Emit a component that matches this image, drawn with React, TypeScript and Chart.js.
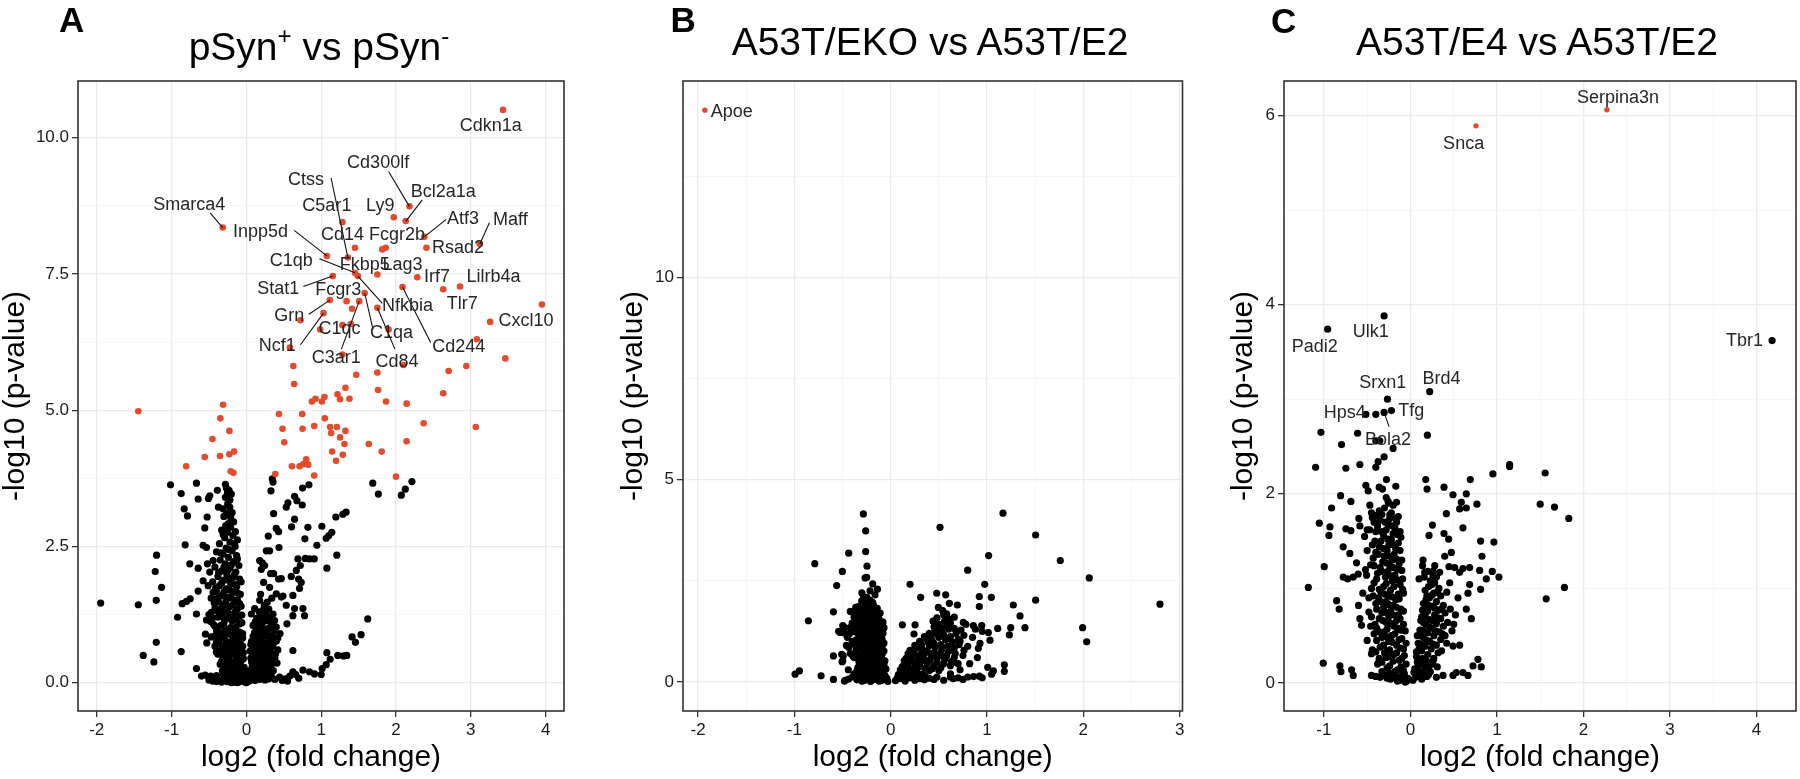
import React, { useEffect, useRef } from 'react';
import { Chart, registerables } from 'chart.js';

Chart.register(...registerables);

const FONT = '"Liberation Sans", Arial, Helvetica, sans-serif';
const RED = '#E34B2C';
const BLACK = '#000000';

type P = [number, number];
type Lab = { t: string; x: number; y: number; s?: [number, number, number, number] };

// ---------------- Panel A: pSyn+ vs pSyn- ----------------
const aRed: P[] = [
  [3.43, 10.51], [2.18, 8.74], [1.97, 8.54], [2.13, 8.47], [-0.316, 8.35], [1.284, 8.45], [2.378, 8.18], [3.12, 8.05],
  [1.452, 7.98], [1.817, 7.95], [1.863, 7.98], [2.407, 7.98], [1.076, 7.83], [1.357, 7.8], [1.452, 7.52], [1.49, 7.46],
  [1.751, 7.49], [1.155, 7.46], [2.284, 7.44], [2.631, 7.22], [2.856, 7.27], [2.087, 7.26], [1.581, 7.15], [1.116, 7.02],
  [1.34, 7.0], [1.508, 7.0], [1.751, 6.88], [1.413, 6.86], [1.031, 6.78], [3.95, 6.94], [0.723, 6.65], [3.258, 6.62],
  [0.987, 6.48], [1.284, 6.56], [1.396, 6.58], [1.901, 6.48], [3.08, 6.3], [0.583, 6.15], [1.284, 6.02], [3.461, 5.95],
  [0.628, 5.81], [2.098, 5.83], [2.94, 5.81], [2.704, 5.72], [1.751, 5.69], [1.469, 5.65], [0.639, 5.48], [1.324, 5.41],
  [1.761, 5.37], [2.631, 5.31], [1.867, 5.16], [2.142, 5.12], [0.876, 5.16], [0.924, 5.21], [1.009, 5.16], [1.044, 5.24],
  [1.218, 5.29], [1.253, 5.2], [1.378, 5.21], [-0.311, 5.1], [-1.444, 4.98], [-0.347, 4.85], [0.436, 4.93], [0.747, 4.93],
  [1.049, 4.85], [2.369, 4.76], [3.067, 4.69], [-0.227, 4.62], [0.484, 4.66], [0.751, 4.66], [0.907, 4.71], [1.12, 4.69],
  [1.209, 4.69], [1.324, 4.62], [1.133, 4.58], [1.253, 4.5], [1.311, 4.38], [-0.453, 4.47], [0.507, 4.41], [1.636, 4.38],
  [2.142, 4.43], [1.809, 4.24], [1.147, 4.24], [1.289, 4.18], [1.2, 4.07], [-0.556, 4.14], [-0.351, 4.16], [-0.227, 4.19],
  [-0.164, 4.24], [-0.804, 3.97], [-0.209, 3.88], [-0.173, 3.85], [0.609, 3.97], [0.711, 3.97], [0.764, 4.01], [0.8, 4.1],
  [0.827, 4.0], [0.387, 3.83], [0.907, 3.8], [2.0, 3.78],
];

const aBlackOuter: P[] = [
  [-1.013, 3.63], [-0.667, 3.66], [-0.871, 3.47], [-0.644, 3.37], [-0.507, 3.38], [-0.489, 3.43], [-0.387, 3.53], [-0.28, 3.64],
  [-0.267, 3.57], [-0.231, 3.53], [-0.2, 3.46], [-0.253, 3.48], [0.347, 3.74], [0.356, 3.68], [0.329, 3.52], [0.836, 3.63],
  [0.751, 3.57], [0.644, 3.42], [0.676, 3.34], [0.747, 3.26], [0.556, 3.3], [0.533, 3.22], [1.689, 3.66], [1.764, 3.46],
  [2.071, 3.44], [2.124, 3.55], [2.213, 3.69], [-0.831, 3.19], [-0.787, 3.06], [-0.524, 3.04], [-0.373, 3.22], [-0.311, 3.19],
  [-0.222, 3.22], [-0.209, 3.02], [-0.276, 2.88], [-0.253, 2.76], [-0.147, 2.77], [-0.556, 2.84], [0.364, 3.1], [0.644, 3.0],
  [0.604, 2.86], [0.4, 2.83], [0.431, 2.77], [0.822, 2.85], [1.009, 2.87], [1.196, 3.04], [1.289, 3.09], [1.333, 3.13],
  [1.142, 2.76], [1.102, 2.7], [1.067, 2.65], [0.782, 2.64], [0.942, 2.52], [1.209, 2.34], [1.076, 2.1], [0.293, 2.69],
  [0.436, 2.48], [0.311, 2.42], [0.267, 2.42], [0.178, 2.24], [0.213, 2.2], [0.244, 2.15], [0.2, 2.08], [-0.818, 2.53],
  [-0.578, 2.52], [-0.533, 2.48], [-1.2, 2.34], [-1.218, 2.04], [-1.133, 1.75], [-1.204, 1.51], [-1.947, 1.46], [-1.444, 1.43],
  [-0.756, 2.18], [-0.644, 2.1], [-0.52, 2.18], [-0.489, 2.03], [-0.444, 2.24], [-0.578, 1.87], [-0.644, 1.68], [-0.858, 1.45],
  [-0.8, 1.49], [-0.751, 1.54], [-0.92, 1.2], [-0.667, 1.26], [-0.533, 1.15], [-0.476, 1.12], [-0.547, 0.89], [-0.529, 0.73],
  [-0.4, 0.74], [-1.204, 0.74], [-1.378, 0.5], [-1.236, 0.38], [-0.871, 0.57], [-0.667, 0.26], [-0.476, 0.12], [-0.4, 0.13],
  [0.364, 2.0], [0.431, 1.9], [0.467, 1.91], [0.324, 2.0], [0.6, 1.95], [0.698, 1.9], [0.733, 1.84], [0.689, 2.27],
  [0.72, 2.15], [0.667, 2.06], [0.787, 2.28], [0.844, 2.27], [0.907, 2.27], [0.711, 1.73], [0.231, 1.84], [0.311, 1.75],
  [0.4, 1.63], [0.467, 1.57], [0.489, 1.59], [0.622, 1.6], [0.533, 1.42], [0.644, 1.36], [0.756, 1.36], [0.778, 1.23],
  [0.622, 1.23], [0.178, 1.51], [0.111, 1.36], [0.067, 1.26], [0.356, 1.26], [0.378, 1.14], [0.542, 1.08], [0.622, 0.59],
  [1.622, 1.17], [1.533, 0.88], [1.413, 0.84], [1.458, 0.74], [1.076, 0.55], [1.12, 0.43], [1.222, 0.5], [1.298, 0.49],
  [1.342, 0.5], [1.067, 0.33], [1.013, 0.26], [1.0, 0.15], [0.622, 0.2], [0.756, 0.23], [0.844, 0.2], [0.911, 0.16],
  [0.444, 0.1], [0.333, 0.1],
  [-0.6, 0.12], [-0.55, 0.14], [-0.5, 0.05], [-0.45, 0.03], [-0.4, 0.02], [0.48, 0.04], [0.52, 0.07], [0.58, 0.12],
  [0.66, 0.15], [0.7, 0.08], [0.55, 0.03], [-0.2, 0.0], [0.0, 0.0], [0.03, 0.02], [-0.12, 0.0],
];

const aBlackLeftArm: P[] = [
  [-0.28, 3.4], [-0.22, 3.35], [-0.25, 3.28], [-0.19, 3.12], [-0.3, 3.05], [-0.17, 2.95], [-0.24, 2.92], [-0.33, 2.8],
  [-0.18, 2.7], [-0.29, 2.66], [-0.12, 2.62], [-0.22, 2.58], [-0.36, 2.55], [-0.15, 2.5], [-0.27, 2.47],
  [-0.4, 2.4], [-0.19, 2.42], [-0.31, 2.36], [-0.13, 2.33], [-0.24, 2.3], [-0.35, 2.25], [-0.17, 2.22], [-0.28, 2.18],
  [-0.1, 2.15], [-0.42, 2.12], [-0.22, 2.1], [-0.33, 2.05], [-0.14, 2.03], [-0.26, 1.98], [-0.38, 1.95], [-0.18, 1.93],
  [-0.09, 1.9], [-0.3, 1.88], [-0.45, 1.85], [-0.21, 1.82],
  [-0.36, 1.78], [-0.13, 1.76], [-0.27, 1.72], [-0.4, 1.68], [-0.17, 1.66], [-0.08, 1.62], [-0.32, 1.6], [-0.23, 1.57],
  [-0.47, 1.55], [-0.12, 1.52], [-0.37, 1.48], [-0.28, 1.45], [-0.19, 1.42], [-0.07, 1.4], [-0.42, 1.37], [-0.33, 1.33],
  [-0.15, 1.3], [-0.24, 1.27], [-0.5, 1.25], [-0.1, 1.22], [-0.38, 1.2], [-0.29, 1.16], [-0.19, 1.13], [-0.06, 1.1],
  [-0.44, 1.07], [-0.34, 1.05], [-0.14, 1.02],
  [-0.25, 0.98], [-0.4, 0.95], [-0.09, 0.93], [-0.31, 0.9], [-0.19, 0.87], [-0.47, 0.84], [-0.05, 0.82], [-0.36, 0.79],
  [-0.27, 0.76], [-0.13, 0.73], [-0.22, 0.7], [-0.42, 0.67], [-0.08, 0.64], [-0.32, 0.61], [-0.17, 0.58], [-0.04, 0.55],
  [-0.38, 0.52], [-0.25, 0.5], [-0.12, 0.47], [-0.29, 0.43], [-0.07, 0.4], [-0.2, 0.37], [-0.35, 0.34], [-0.14, 0.31],
  [-0.03, 0.28], [-0.26, 0.25], [-0.1, 0.22], [-0.18, 0.19], [-0.31, 0.16], [-0.06, 0.14], [-0.23, 0.11], [-0.13, 0.08],
  [-0.02, 0.06], [-0.28, 0.05], [-0.17, 0.03], [-0.08, 0.02], [-0.37, 0.04], [-0.02, 0.01],
  [-0.511, 1.78], [-0.444, 1.66], [-0.4, 1.54], [-0.356, 1.35], [-0.467, 1.29], [-0.422, 1.04], [-0.378, 0.87], [-0.333, 0.68],
  [-0.4, 0.56], [-0.311, 0.44], [-0.267, 0.32],
  [-0.26, 3.1], [-0.21, 2.85], [-0.31, 2.72], [-0.16, 2.55], [-0.23, 2.44], [-0.34, 2.38], [-0.12, 2.27], [-0.2, 2.16],
  [-0.3, 2.12], [-0.37, 2.02], [-0.25, 2.06], [-0.16, 1.98], [-0.07, 1.85], [-0.24, 1.88], [-0.33, 1.83], [-0.15, 1.8],
  [-0.41, 1.74], [-0.22, 1.7], [-0.3, 1.66], [-0.11, 1.64], [-0.36, 1.58], [-0.2, 1.55], [-0.27, 1.51], [-0.15, 1.48],
  [-0.43, 1.46], [-0.09, 1.45], [-0.31, 1.42], [-0.23, 1.39], [-0.12, 1.35], [-0.38, 1.31], [-0.27, 1.3], [-0.18, 1.25],
  [-0.06, 1.24], [-0.33, 1.22], [-0.45, 1.19], [-0.24, 1.18], [-0.14, 1.15], [-0.09, 1.08], [-0.3, 1.09], [-0.39, 1.02],
  [-0.21, 1.01], [-0.28, 0.96], [-0.15, 0.95], [-0.35, 0.92], [-0.05, 0.9], [-0.23, 0.89], [-0.42, 0.86], [-0.12, 0.85],
  [-0.3, 0.83], [-0.18, 0.8], [-0.08, 0.77], [-0.25, 0.74], [-0.38, 0.73], [-0.16, 0.69], [-0.29, 0.67], [-0.05, 0.67],
  [-0.21, 0.63], [-0.12, 0.61], [-0.35, 0.58], [-0.26, 0.56], [-0.09, 0.55], [-0.19, 0.53], [-0.31, 0.49], [-0.14, 0.45],
  [-0.04, 0.44], [-0.23, 0.42], [-0.33, 0.39], [-0.1, 0.37], [-0.17, 0.34], [-0.27, 0.3], [-0.06, 0.29], [-0.21, 0.26],
  [-0.12, 0.25], [-0.32, 0.22], [-0.03, 0.19], [-0.15, 0.16], [-0.25, 0.14], [-0.09, 0.12], [-0.19, 0.09], [-0.04, 0.1],
  [-0.3, 0.09], [-0.11, 0.05], [-0.22, 0.06], [-0.05, 0.04], [-0.15, 0.01], [-0.26, 0.02], [-0.33, 0.01],
];

const aBlackRightArm: P[] = [
  [0.06, 0.05], [0.12, 0.04], [0.18, 0.06], [0.25, 0.05], [0.3, 0.07], [0.38, 0.06], [0.05, 0.15], [0.1, 0.2],
  [0.16, 0.17], [0.22, 0.24], [0.28, 0.19], [0.08, 0.3], [0.14, 0.35], [0.2, 0.4], [0.27, 0.36], [0.33, 0.3],
  [0.06, 0.45], [0.11, 0.52], [0.17, 0.48], [0.24, 0.55], [0.3, 0.5], [0.38, 0.45], [0.09, 0.62], [0.15, 0.68],
  [0.21, 0.64], [0.28, 0.7], [0.35, 0.66], [0.42, 0.6], [0.07, 0.76], [0.13, 0.82], [0.19, 0.78], [0.26, 0.85],
  [0.32, 0.8], [0.4, 0.76], [0.11, 0.92], [0.17, 0.97], [0.23, 0.93], [0.3, 1.0], [0.37, 0.95], [0.45, 0.9],
  [0.09, 1.05], [0.15, 1.1], [0.21, 1.07], [0.27, 1.14], [0.34, 1.09], [0.2, 1.22], [0.26, 1.28], [0.14, 1.18],
  [0.3, 1.35], [0.24, 1.42],
  [0.03, 0.08], [0.09, 0.1], [0.14, 0.11], [0.2, 0.14], [0.26, 0.12], [0.33, 0.14], [0.04, 0.22], [0.07, 0.38],
  [0.12, 0.28], [0.18, 0.3], [0.24, 0.31], [0.3, 0.26], [0.36, 0.22], [0.05, 0.58], [0.1, 0.42], [0.16, 0.41],
  [0.22, 0.46], [0.28, 0.43], [0.34, 0.4], [0.41, 0.36], [0.08, 0.5], [0.13, 0.58], [0.19, 0.56], [0.26, 0.61],
  [0.32, 0.58], [0.39, 0.53], [0.06, 0.7], [0.11, 0.72], [0.17, 0.7], [0.23, 0.73], [0.3, 0.74], [0.36, 0.72],
  [0.09, 0.85], [0.15, 0.88], [0.21, 0.84], [0.28, 0.9], [0.35, 0.86], [0.42, 0.82], [0.13, 1.0], [0.19, 1.02],
  [0.25, 0.98], [0.33, 1.04], [0.4, 1.02], [0.12, 1.12], [0.18, 1.14], [0.24, 1.18], [0.31, 1.2], [0.17, 1.3],
  [0.23, 1.34], [0.28, 1.48], [0.34, 1.55], [0.19, 1.62],
];

const aLabels: Lab[] = [
  { t: 'Cdkn1a', x: 3.265, y: 10.21 },
  { t: 'Cd300lf', x: 1.761, y: 9.54, s: [1.901, 9.38, 2.178, 8.74] },
  { t: 'Ctss', x: 0.796, y: 9.23, s: [1.132, 9.26, 1.357, 7.8] },
  { t: 'Bcl2a1a', x: 2.631, y: 9.0, s: [2.351, 8.86, 2.133, 8.47] },
  { t: 'Smarca4', x: -0.764, y: 8.76, s: [-0.484, 8.62, -0.316, 8.35] },
  { t: 'C5ar1', x: 1.076, y: 8.74 },
  { t: 'Ly9', x: 1.789, y: 8.74 },
  { t: 'Atf3', x: 2.895, y: 8.5, s: [2.671, 8.5, 2.378, 8.18] },
  { t: 'Maff', x: 3.529, y: 8.49, s: [3.248, 8.44, 3.12, 8.05] },
  { t: 'Inpp5d', x: 0.19, y: 8.27, s: [0.639, 8.3, 1.076, 7.83] },
  { t: 'Cd14', x: 1.284, y: 8.22 },
  { t: 'Fcgr2b', x: 2.013, y: 8.22 },
  { t: 'Rsad2', x: 2.828, y: 7.98 },
  { t: 'C1qb', x: 0.6, y: 7.73, s: [0.976, 7.78, 1.452, 7.52] },
  { t: 'Fkbp5', x: 1.581, y: 7.67 },
  { t: 'Lag3', x: 2.087, y: 7.67 },
  { t: 'Irf7', x: 2.547, y: 7.44 },
  { t: 'Lilrb4a', x: 3.304, y: 7.44 },
  { t: 'Stat1', x: 0.425, y: 7.22, s: [0.762, 7.27, 1.155, 7.46] },
  { t: 'Fcgr3', x: 1.228, y: 7.2 },
  { t: 'Nfkbia', x: 2.153, y: 6.92, s: [1.817, 6.96, 1.49, 7.46] },
  { t: 'Tlr7', x: 2.884, y: 6.94 },
  { t: 'Grn', x: 0.572, y: 6.72, s: [0.835, 6.76, 1.116, 7.02] },
  { t: 'Cxcl10', x: 3.737, y: 6.64 },
  { t: 'C1qc', x: 1.244, y: 6.48 },
  { t: 'C1qa', x: 1.941, y: 6.41, s: [1.693, 6.48, 1.581, 7.15] },
  { t: 'Ncf1', x: 0.414, y: 6.18, s: [0.723, 6.2, 1.031, 6.78] },
  { t: 'Cd244', x: 2.839, y: 6.15, s: [2.463, 6.24, 2.087, 7.26] },
  { t: 'C3ar1', x: 1.2, y: 5.95, s: [1.27, 6.12, 1.508, 7.0] },
  { t: 'Cd84', x: 2.013, y: 5.88, s: [1.985, 6.12, 1.751, 6.88] },
];

const aXMajor = [-2, -1, 0, 1, 2, 3, 4];
const aXMajorLabels = ['-2', '-1', '0', '1', '2', '3', '4'];
const aXMinor: number[] = [];
const aYMajor = [0, 2.5, 5, 7.5, 10];
const aYMajorLabels = ['0.0', '2.5', '5.0', '7.5', '10.0'];
const aYMinor = [1.25, 3.75, 6.25, 8.75];

// ---------------- Panel B: A53T/EKO vs A53T/E2 ----------------
const bRed: P[] = [[-1.93, 14.13]];

const bBlackOuter: P[] = [
  [-0.284, 4.15], [-0.26, 3.73], [-0.26, 3.22], [-0.246, 2.86], [-0.266, 2.57], [-0.25, 2.58], [-0.436, 3.18], [-0.789, 2.92],
  [-0.502, 2.73], [-0.561, 2.38], [-0.408, 1.73], [-0.595, 1.73], [-0.855, 1.51], [-0.595, 0.64], [-0.993, 0.19], [-0.948, 0.27],
  [-0.723, 0.15], [-0.595, 0.06], [-0.474, 0.04], [-0.439, 0.07], [-0.48, 0.02],
  [0.512, 3.82], [1.166, 4.17], [1.505, 3.63], [1.017, 3.12], [1.761, 3.0], [0.799, 2.76], [2.062, 2.57], [0.201, 2.41],
  [0.976, 2.41], [0.92, 2.11], [1.045, 2.09], [0.311, 2.09], [0.478, 2.19], [0.571, 2.15], [0.92, 1.86], [0.609, 1.94],
  [0.692, 1.9], [1.505, 2.02], [1.273, 1.9], [1.343, 1.63], [1.394, 1.34], [1.246, 1.34], [1.232, 1.16], [1.111, 1.32],
  [2.796, 1.92], [1.993, 1.34], [2.035, 0.99], [0.121, 1.41], [0.253, 1.41], [0.242, 1.18],
  [1.18, 0.42], [1.18, 0.26], [1.066, 0.27], [1.048, 0.19], [1.007, 0.36],
  [0.35, 0.05], [0.45, 0.06], [0.55, 0.04], [0.65, 0.08], [0.62, 0.12], [0.7, 0.1], [0.75, 0.06], [0.8, 0.12],
  [0.86, 0.13], [0.92, 0.14], [0.95, 0.1], [0.48, 0.12], [0.4, 0.09], [0.3, 0.08],
  [0.495, 1.84], [0.54, 1.76], [0.581, 1.68], [0.754, 1.47], [0.858, 1.39], [0.945, 1.39], [1.014, 1.22], [1.031, 1.03],
  [0.927, 0.95], [0.91, 0.83], [0.72, 1.0], [0.761, 0.78], [0.65, 0.48], [0.54, 0.64],
];

const bBlackLeftArm: P[] = [
  [-0.187, 2.42], [-0.138, 2.29], [-0.215, 2.25], [-0.163, 2.15], [-0.249, 2.09], [-0.301, 2.0], [-0.336, 1.86], [-0.232, 1.88],
  [-0.187, 1.96], [-0.498, 1.39], [-0.526, 1.22], [-0.474, 1.2], [-0.422, 1.34], [-0.37, 1.51], [-0.498, 0.52], [-0.509, 0.68],
  [-0.541, 1.25], [-0.482, 1.35], [-0.401, 1.36], [-0.345, 1.55], [-0.419, 1.74], [-0.363, 1.84], [-0.493, 0.64], [-0.505, 0.5],
  [-0.437, 0.85], [-0.382, 0.93], [-0.393, 0.64], [-0.326, 0.56], [-0.289, 0.35],
  [-0.3, 2.2], [-0.22, 2.02], [-0.27, 1.95], [-0.18, 1.9], [-0.31, 1.8], [-0.24, 1.76], [-0.16, 1.72], [-0.35, 1.68],
  [-0.28, 1.64], [-0.2, 1.6], [-0.12, 1.55], [-0.33, 1.52], [-0.25, 1.48], [-0.17, 1.44], [-0.09, 1.4], [-0.3, 1.36],
  [-0.22, 1.32], [-0.14, 1.28], [-0.38, 1.24], [-0.27, 1.2], [-0.19, 1.16], [-0.11, 1.12], [-0.33, 1.08], [-0.24, 1.04],
  [-0.16, 1.0], [-0.07, 0.96], [-0.29, 0.92], [-0.21, 0.88], [-0.13, 0.84], [-0.36, 0.8], [-0.26, 0.76], [-0.18, 0.72],
  [-0.09, 0.68], [-0.31, 0.64], [-0.23, 0.6], [-0.15, 0.56], [-0.06, 0.52], [-0.28, 0.48], [-0.2, 0.44], [-0.12, 0.4],
  [-0.34, 0.36], [-0.25, 0.32], [-0.17, 0.28], [-0.08, 0.24], [-0.3, 0.2], [-0.21, 0.16], [-0.13, 0.12], [-0.04, 0.09],
  [-0.26, 0.07], [-0.18, 0.05], [-0.1, 0.03], [-0.03, 0.01], [-0.4, 1.0], [-0.42, 0.7], [-0.45, 1.1], [-0.4, 1.45],
  [-0.33, 0.5], [-0.38, 0.2], [-0.35, 0.05], [-0.3, 0.02],
  [-0.28, 2.1], [-0.2, 1.98], [-0.25, 1.84], [-0.14, 1.82], [-0.29, 1.7], [-0.21, 1.66], [-0.13, 1.62], [-0.32, 1.58],
  [-0.24, 1.56], [-0.16, 1.52], [-0.08, 1.48], [-0.28, 1.44], [-0.2, 1.4], [-0.12, 1.36], [-0.35, 1.32], [-0.25, 1.28],
  [-0.17, 1.24], [-0.08, 1.2], [-0.3, 1.16], [-0.22, 1.12], [-0.14, 1.08], [-0.36, 1.04], [-0.27, 1.0], [-0.19, 0.96],
  [-0.11, 0.92], [-0.33, 0.88], [-0.24, 0.84], [-0.16, 0.8], [-0.07, 0.76], [-0.29, 0.72], [-0.21, 0.68], [-0.12, 0.64],
  [-0.38, 0.6], [-0.26, 0.56], [-0.18, 0.52], [-0.09, 0.48], [-0.31, 0.44], [-0.23, 0.4], [-0.15, 0.36], [-0.05, 0.32],
  [-0.27, 0.28], [-0.19, 0.24], [-0.11, 0.2], [-0.33, 0.16], [-0.24, 0.12], [-0.16, 0.1], [-0.07, 0.06], [-0.28, 0.03],
  [-0.21, 0.01], [-0.13, 0.06], [-0.4, 0.12], [-0.44, 0.3], [-0.46, 0.9], [-0.43, 1.18], [-0.36, 1.42], [-0.38, 1.6],
  [-0.24, 1.92], [-0.19, 1.78], [-0.27, 1.74], [-0.11, 1.7], [-0.23, 1.62], [-0.31, 1.62], [-0.15, 1.58], [-0.19, 1.5],
  [-0.27, 1.52], [-0.1, 1.46], [-0.24, 1.42], [-0.33, 1.4], [-0.16, 1.38], [-0.07, 1.34], [-0.29, 1.3], [-0.21, 1.26],
  [-0.12, 1.22], [-0.34, 1.2], [-0.25, 1.16], [-0.17, 1.13], [-0.09, 1.06], [-0.3, 1.05], [-0.22, 1.02], [-0.14, 0.98],
  [-0.35, 0.96], [-0.26, 0.93], [-0.18, 0.9], [-0.09, 0.86], [-0.31, 0.84], [-0.22, 0.79], [-0.14, 0.76], [-0.36, 0.74],
  [-0.27, 0.7], [-0.19, 0.66], [-0.1, 0.62], [-0.32, 0.59], [-0.24, 0.54], [-0.14, 0.5], [-0.07, 0.44], [-0.29, 0.4],
  [-0.2, 0.36], [-0.11, 0.3], [-0.35, 0.28], [-0.23, 0.22], [-0.15, 0.18], [-0.06, 0.16], [-0.29, 0.12], [-0.2, 0.08],
  [-0.12, 0.02],
];

const bBlackRightArm: P[] = [
  [0.05, 0.03], [0.1, 0.08], [0.15, 0.02], [0.2, 0.1], [0.25, 0.04], [0.08, 0.18], [0.14, 0.25], [0.2, 0.22],
  [0.27, 0.3], [0.33, 0.2], [0.4, 0.28], [0.12, 0.38], [0.18, 0.45], [0.25, 0.42], [0.31, 0.5], [0.38, 0.46],
  [0.45, 0.4], [0.52, 0.35], [0.16, 0.58], [0.22, 0.64], [0.29, 0.6], [0.35, 0.7], [0.42, 0.66], [0.48, 0.6],
  [0.56, 0.55], [0.63, 0.5], [0.7, 0.45], [0.2, 0.78], [0.27, 0.84], [0.33, 0.8], [0.4, 0.9], [0.46, 0.86],
  [0.53, 0.8], [0.6, 0.75], [0.67, 0.7], [0.75, 0.65], [0.3, 1.0], [0.37, 1.06], [0.43, 1.02], [0.5, 1.1],
  [0.57, 1.04], [0.64, 0.98], [0.71, 0.92], [0.8, 0.88], [0.4, 1.2], [0.46, 1.28], [0.53, 1.24], [0.6, 1.3],
  [0.68, 1.2], [0.76, 1.15], [0.85, 1.1], [0.5, 1.42], [0.56, 1.5], [0.62, 1.45], [0.48, 1.58], [0.55, 1.65],
  [0.88, 1.3], [0.95, 1.25], [0.78, 1.42], [0.72, 0.3], [0.82, 0.45], [0.9, 0.6], [0.62, 0.2],
  [0.07, 0.1], [0.12, 0.15], [0.17, 0.12], [0.23, 0.17], [0.29, 0.15], [0.36, 0.13], [0.1, 0.3], [0.16, 0.34],
  [0.22, 0.31], [0.3, 0.38], [0.36, 0.34], [0.43, 0.32], [0.5, 0.28], [0.14, 0.52], [0.21, 0.54], [0.27, 0.5],
  [0.34, 0.58], [0.41, 0.55], [0.48, 0.5], [0.55, 0.45], [0.62, 0.4], [0.18, 0.7], [0.24, 0.72], [0.31, 0.68],
  [0.38, 0.76], [0.45, 0.73], [0.51, 0.7], [0.58, 0.64], [0.66, 0.6], [0.25, 0.9], [0.32, 0.92], [0.39, 0.98],
  [0.45, 0.95], [0.52, 0.92], [0.59, 0.88], [0.66, 0.84], [0.35, 1.12], [0.42, 1.14], [0.48, 1.18], [0.55, 1.16],
  [0.62, 1.12], [0.7, 1.05], [0.45, 1.36], [0.52, 1.34], [0.58, 1.38], [0.66, 1.32], [0.73, 1.28], [0.6, 1.56],
  [0.66, 1.6], [0.44, 1.5],
];

const bLabels: Lab[] = [{ t: 'Apoe', x: -1.65, y: 14.09 }];

const bXMajor = [-2, -1, 0, 1, 2, 3];
const bXMajorLabels = ['-2', '-1', '0', '1', '2', '3'];
const bXMinor = [-1.5, -0.5, 0.5, 1.5, 2.5];
const bYMajor = [0, 5, 10];
const bYMajorLabels = ['0', '5', '10'];
const bYMinor = [2.5, 7.5, 12.5];

// ---------------- Panel C: A53T/E4 vs A53T/E2 ----------------
const cRed: P[] = [[2.271, 6.06], [0.757, 5.89]];

const cBlackOuter: P[] = [
  [-0.304, 3.88], [-0.957, 3.74], [0.223, 3.08], [-0.265, 3.0], [-0.515, 2.84], [-0.4, 2.84], [-0.304, 2.86], [-0.219, 2.88],
  [4.18, 3.62],
  [-0.4, 2.56], [-0.354, 2.56], [-1.034, 2.65], [-0.611, 2.64], [0.196, 2.62], [-0.796, 2.52], [-0.2, 2.48], [-0.304, 2.39],
  [-0.373, 2.34], [-0.4, 2.28], [-0.584, 2.31], [-0.746, 2.27], [-1.096, 2.28], [1.146, 2.31], [1.146, 2.29], [1.557, 2.22],
  [0.953, 2.21], [0.692, 2.15], [0.177, 2.15], [0.192, 2.05], [0.388, 2.07], [-0.277, 2.15], [-0.169, 2.08], [-0.515, 2.09],
  [-0.488, 2.03], [-0.361, 2.07], [-0.323, 2.05], [-0.807, 1.98], [-0.688, 1.92], [-0.911, 1.85], [0.492, 1.99], [0.646, 2.0],
  [0.588, 1.91], [0.646, 1.85], [0.569, 1.84], [0.769, 1.89], [0.415, 1.79], [1.5, 1.89], [1.665, 1.86], [1.83, 1.74],
  [-0.469, 1.88], [-0.45, 1.8], [-0.4, 1.77], [-0.258, 1.92], [-0.161, 1.91], [-0.238, 1.78], [-0.169, 1.74], [-0.596, 1.74],
  [-1.053, 1.69], [-0.93, 1.65], [-0.942, 1.56], [-0.746, 1.63], [-0.688, 1.61], [-0.584, 1.66], [-0.5, 1.62], [0.254, 1.67],
  [0.607, 1.64], [0.215, 1.56], [0.388, 1.58], [0.442, 1.52], [0.811, 1.5], [0.965, 1.49], [0.827, 1.34], [-0.777, 1.44],
  [-0.7, 1.37], [-0.996, 1.23], [-0.623, 1.27], [-0.661, 1.12], [-0.776, 1.12], [-0.726, 1.1], [-0.604, 1.15], [-0.507, 1.14],
  [-1.18, 1.01], [0.146, 1.3], [0.281, 1.24], [0.165, 1.17], [0.261, 1.13], [0.338, 1.17], [0.396, 1.34], [0.473, 1.38],
  [0.446, 1.23], [0.511, 1.22], [0.569, 1.17], [0.607, 1.21], [0.684, 1.22], [0.8, 1.19], [0.877, 1.1], [0.946, 1.18],
  [1.023, 1.12], [0.454, 1.06], [0.684, 1.04], [0.811, 0.99], [0.665, 0.95], [1.78, 1.01], [1.569, 0.89], [-0.853, 0.87],
  [-0.823, 0.78], [-0.6, 0.82], [-0.584, 0.68], [-0.565, 0.61], [0.646, 0.78], [0.704, 0.68], [0.492, 0.39], [0.569, 0.4],
  [-0.45, 0.31], [-0.361, 0.24], [-1.007, 0.21], [-0.815, 0.18], [-0.803, 0.12], [-0.68, 0.14], [-0.661, 0.08], [-0.45, 0.08],
  [-0.4, 0.07], [-0.35, 0.06], [0.78, 0.25], [0.819, 0.17], [0.723, 0.18], [0.53, 0.11], [0.607, 0.11], [0.665, 0.08],
  [0.492, 0.08], [0.377, 0.08], [0.3, 0.06], [0.261, 0.23],
];

const cBlackLeftArm: P[] = [
  [-0.3, 1.85], [-0.22, 1.8], [-0.35, 1.72], [-0.26, 1.68], [-0.18, 1.64], [-0.4, 1.6], [-0.31, 1.56], [-0.22, 1.52],
  [-0.14, 1.48], [-0.36, 1.44], [-0.27, 1.4], [-0.19, 1.36], [-0.43, 1.32], [-0.32, 1.28], [-0.24, 1.24], [-0.15, 1.2],
  [-0.38, 1.16], [-0.29, 1.12], [-0.21, 1.08], [-0.12, 1.04], [-0.45, 1.0], [-0.34, 0.96], [-0.26, 0.92], [-0.17, 0.88],
  [-0.4, 0.84], [-0.31, 0.8], [-0.23, 0.76], [-0.14, 0.72], [-0.36, 0.68], [-0.28, 0.64], [-0.19, 0.6], [-0.11, 0.56],
  [-0.42, 0.52], [-0.33, 0.48], [-0.25, 0.44], [-0.16, 0.4], [-0.08, 0.36], [-0.3, 0.32], [-0.22, 0.28], [-0.13, 0.24],
  [-0.05, 0.2], [-0.27, 0.16], [-0.18, 0.12], [-0.1, 0.08], [-0.03, 0.05], [-0.23, 0.04], [-0.15, 0.02], [-0.06, 0.01],
  [-0.5, 1.4], [-0.48, 0.9], [-0.46, 0.6], [-0.12, 1.6], [-0.1, 1.3], [-0.08, 0.95], [-0.52, 1.2], [-0.55, 0.95],
  [-0.5, 0.45], [-0.38, 0.2], [-0.44, 1.75], [-0.53, 1.55],
  [-0.28, 1.96], [-0.2, 1.88], [-0.33, 1.78], [-0.24, 1.74], [-0.16, 1.7], [-0.38, 1.66], [-0.28, 1.62], [-0.2, 1.58],
  [-0.11, 1.54], [-0.34, 1.5], [-0.25, 1.46], [-0.17, 1.42], [-0.4, 1.38], [-0.3, 1.34], [-0.21, 1.3], [-0.13, 1.26],
  [-0.35, 1.22], [-0.26, 1.18], [-0.18, 1.14], [-0.09, 1.1], [-0.42, 1.06], [-0.31, 1.02], [-0.23, 0.98], [-0.14, 0.94],
  [-0.37, 0.9], [-0.28, 0.86], [-0.2, 0.82], [-0.11, 0.78], [-0.33, 0.74], [-0.25, 0.7], [-0.16, 0.66], [-0.08, 0.62],
  [-0.39, 0.58], [-0.3, 0.54], [-0.22, 0.5], [-0.13, 0.46], [-0.05, 0.42], [-0.35, 0.38], [-0.27, 0.34], [-0.19, 0.3],
  [-0.1, 0.26], [-0.33, 0.22], [-0.24, 0.18], [-0.15, 0.14], [-0.07, 0.1], [-0.29, 0.08], [-0.2, 0.06], [-0.12, 0.03],
  [-0.04, 0.02], [-0.46, 1.25], [-0.48, 0.75], [-0.44, 0.35], [-0.41, 1.5], [-0.47, 1.62],
  [-0.25, 1.9], [-0.36, 1.82], [-0.14, 1.76], [-0.29, 1.7], [-0.42, 1.7], [-0.21, 1.66], [-0.33, 1.6], [-0.15, 1.57],
  [-0.26, 1.52], [-0.44, 1.46], [-0.19, 1.46], [-0.31, 1.42], [-0.12, 1.4], [-0.37, 1.36], [-0.24, 1.34], [-0.16, 1.31],
  [-0.28, 1.27], [-0.42, 1.24], [-0.2, 1.22], [-0.1, 1.19], [-0.33, 1.18], [-0.25, 1.14], [-0.39, 1.1], [-0.15, 1.09],
  [-0.28, 1.05], [-0.19, 1.02], [-0.36, 0.99], [-0.09, 0.99], [-0.3, 0.94], [-0.21, 0.91], [-0.43, 0.92], [-0.13, 0.89],
  [-0.34, 0.86], [-0.25, 0.83], [-0.16, 0.8], [-0.39, 0.78], [-0.08, 0.76], [-0.29, 0.75], [-0.2, 0.72], [-0.45, 0.7],
  [-0.12, 0.68], [-0.32, 0.66], [-0.23, 0.63], [-0.41, 0.62], [-0.15, 0.58], [-0.27, 0.57], [-0.06, 0.55], [-0.36, 0.54],
  [-0.18, 0.52], [-0.26, 0.48], [-0.1, 0.47], [-0.39, 0.45], [-0.21, 0.43], [-0.31, 0.4], [-0.12, 0.37], [-0.24, 0.35],
  [-0.4, 0.33], [-0.16, 0.32], [-0.07, 0.29], [-0.28, 0.27], [-0.2, 0.23], [-0.36, 0.26], [-0.11, 0.17], [-0.25, 0.11],
  [-0.33, 0.12], [-0.08, 0.13], [-0.17, 0.07], [-0.09, 0.04], [-0.27, 0.05],
];

const cBlackRightArm: P[] = [
  [0.03, 0.03], [0.08, 0.08], [0.13, 0.04], [0.19, 0.07], [0.05, 0.15], [0.11, 0.2], [0.17, 0.16], [0.23, 0.12],
  [0.07, 0.28], [0.13, 0.34], [0.2, 0.3], [0.27, 0.26], [0.09, 0.42], [0.15, 0.48], [0.22, 0.44], [0.3, 0.4],
  [0.36, 0.34], [0.11, 0.56], [0.18, 0.62], [0.25, 0.58], [0.33, 0.54], [0.4, 0.5], [0.13, 0.7], [0.2, 0.76],
  [0.28, 0.72], [0.35, 0.68], [0.43, 0.64], [0.15, 0.84], [0.22, 0.9], [0.3, 0.86], [0.38, 0.82], [0.17, 0.98],
  [0.25, 1.04], [0.33, 1.0], [0.42, 0.96], [0.1, 1.1], [0.2, 1.18], [0.52, 0.72], [0.48, 0.55], [0.55, 0.9],
  [0.06, 0.06], [0.1, 0.12], [0.15, 0.1], [0.21, 0.09], [0.08, 0.22], [0.14, 0.26], [0.19, 0.23], [0.25, 0.2],
  [0.31, 0.17], [0.1, 0.36], [0.17, 0.39], [0.24, 0.36], [0.32, 0.32], [0.12, 0.5], [0.2, 0.53], [0.27, 0.5],
  [0.35, 0.46], [0.42, 0.42], [0.15, 0.64], [0.22, 0.67], [0.3, 0.63], [0.38, 0.6], [0.17, 0.78], [0.25, 0.81],
  [0.32, 0.77], [0.4, 0.74], [0.19, 0.92], [0.27, 0.95], [0.35, 0.92], [0.23, 1.08], [0.3, 1.12], [0.14, 1.24],
  [0.46, 0.78], [0.5, 0.62],
  [0.04, 0.11], [0.09, 0.17], [0.16, 0.21], [0.21, 0.17], [0.07, 0.33], [0.12, 0.41], [0.19, 0.45], [0.26, 0.41],
  [0.08, 0.5], [0.14, 0.56], [0.22, 0.59], [0.29, 0.55], [0.37, 0.52], [0.12, 0.66], [0.17, 0.71], [0.25, 0.66],
  [0.32, 0.69], [0.14, 0.77], [0.21, 0.82], [0.28, 0.79], [0.36, 0.78], [0.18, 0.88], [0.25, 0.93], [0.31, 0.96],
  [0.21, 1.02], [0.28, 1.06], [0.16, 1.12], [0.26, 1.18],
];

const cLabels: Lab[] = [
  { t: 'Serpina3n', x: 2.4, y: 6.18 },
  { t: 'Snca', x: 0.615, y: 5.7 },
  { t: 'Ulk1', x: -0.458, y: 3.71 },
  { t: 'Padi2', x: -1.106, y: 3.55 },
  { t: 'Tbr1', x: 3.86, y: 3.61 },
  { t: 'Srxn1', x: -0.319, y: 3.17 },
  { t: 'Brd4', x: 0.36, y: 3.21 },
  { t: 'Hps4', x: -0.758, y: 2.857 },
  { t: 'Tfg', x: 0.011, y: 2.87 },
  { t: 'Bola2', x: -0.258, y: 2.57, s: [-0.247, 2.71, -0.296, 2.84] },
];

const cXMajor = [-1, 0, 1, 2, 3, 4];
const cXMajorLabels = ['-1', '0', '1', '2', '3', '4'];
const cXMinor = [-0.5, 0.5, 1.5, 2.5, 3.5];
const cYMajor = [0, 2, 4, 6];
const cYMajorLabels = ['0', '2', '4', '6'];
const cYMinor = [1, 3, 5];

const X_TITLE = 'log2 (fold change)';
const Y_TITLE = '-log10 (p-value)';

// ---------------- chart helpers ----------------
type Spec = {
  xMin: number; xMax: number; yMin: number; yMax: number;
  xMajor: number[]; xLabels: string[]; xMinor: number[];
  yMajor: number[]; yLabels: string[]; yMinor: number[];
  yAxisWidth: number; padRight: number;
  red: P[]; black: P[]; redR: number; labels: Lab[];
};

function axis(min: number, max: number, major: number[], labels: string[], minor: number[], title: string, isX: boolean, size: number) {
  const all = [...major, ...minor].sort((a, b) => a - b);
  const isMajor = (v: number) => major.indexOf(v) >= 0;
  return {
    type: 'linear',
    min,
    max,
    bounds: 'data',
    afterBuildTicks: (s: any) => { s.ticks = all.map((v) => ({ value: v })); },
    afterFit: (s: any) => { if (isX) s.height = size; else s.width = size; },
    grid: {
      color: (c: any) => (c.tick && isMajor(c.tick.value) ? '#EBEBEB' : '#F4F4F4'),
      lineWidth: (c: any) => (c.tick && isMajor(c.tick.value) ? 1.3 : 0.8),
      tickColor: (c: any) => (c.tick && isMajor(c.tick.value) ? '#333333' : 'rgba(0,0,0,0)'),
      tickLength: 6,
      tickWidth: 1.3,
      drawTicks: true,
    },
    border: { display: false },
    ticks: {
      autoSkip: false,
      maxRotation: 0,
      minRotation: 0,
      padding: 3,
      color: '#1a1a1a',
      font: { family: FONT, size: 17 },
      callback: (v: any) => { const i = major.indexOf(v); return i >= 0 ? labels[i] : ''; },
    },
    title: {
      display: true,
      text: title,
      color: '#000000',
      font: { family: FONT, size: 30 },
      padding: isX ? { top: 0, bottom: 3 } : { top: -1, bottom: 0 },
    },
  };
}

function labelPlugin(items: Lab[]) {
  return {
    id: 'geneLabels',
    afterDatasetsDraw(chart: any) {
      const { ctx } = chart;
      const xs = chart.scales.x;
      const ys = chart.scales.y;
      ctx.save();
      ctx.strokeStyle = '#111111';
      ctx.lineWidth = 1.1;
      for (const it of items) {
        if (!it.s) continue;
        ctx.beginPath();
        ctx.moveTo(xs.getPixelForValue(it.s[0]), ys.getPixelForValue(it.s[1]));
        ctx.lineTo(xs.getPixelForValue(it.s[2]), ys.getPixelForValue(it.s[3]));
        ctx.stroke();
      }
      ctx.font = `18px ${FONT}`;
      ctx.fillStyle = '#262626';
      ctx.textAlign = 'center';
      ctx.textBaseline = 'middle';
      for (const it of items) ctx.fillText(it.t, xs.getPixelForValue(it.x), ys.getPixelForValue(it.y));
      ctx.restore();
    },
  };
}

const framePlugin = {
  id: 'panelFrame',
  afterDatasetsDraw(chart: any) {
    const { ctx, chartArea } = chart;
    ctx.save();
    ctx.strokeStyle = '#333333';
    ctx.lineWidth = 1.6;
    ctx.strokeRect(chartArea.left, chartArea.top, chartArea.right - chartArea.left, chartArea.bottom - chartArea.top);
    ctx.restore();
  },
};

function makeChart(canvas: HTMLCanvasElement, sp: Spec) {
  return new Chart(canvas, {
    type: 'scatter',
    data: {
      datasets: [
        {
          data: sp.red.map(([x, y]) => ({ x, y })),
          pointRadius: sp.redR,
          pointBackgroundColor: RED,
          pointBorderWidth: 0,
          pointBorderColor: 'rgba(0,0,0,0)',
        },
        {
          data: sp.black.map(([x, y]) => ({ x, y })),
          pointRadius: 3.6,
          pointBackgroundColor: BLACK,
          pointBorderWidth: 0,
          pointBorderColor: 'rgba(0,0,0,0)',
        },
      ],
    } as any,
    options: {
      animation: false,
      responsive: false,
      devicePixelRatio: 1,
      events: [],
      layout: { padding: { left: 0, right: sp.padRight, top: 81, bottom: 0 } },
      plugins: { legend: { display: false }, tooltip: { enabled: false } },
      scales: {
        x: axis(sp.xMin, sp.xMax, sp.xMajor, sp.xLabels, sp.xMinor, X_TITLE, true, 68),
        y: axis(sp.yMin, sp.yMax, sp.yMajor, sp.yLabels, sp.yMinor, Y_TITLE, false, sp.yAxisWidth),
      },
    } as any,
    plugins: [labelPlugin(sp.labels), framePlugin],
  });
}

const SPEC_A: Spec = {
  xMin: -2.25, xMax: 4.245, yMin: -0.52, yMax: 11.04,
  xMajor: aXMajor, xLabels: aXMajorLabels, xMinor: aXMinor,
  yMajor: aYMajor, yLabels: aYMajorLabels, yMinor: aYMinor,
  yAxisWidth: 79, padRight: 36, red: aRed, black: [...aBlackOuter, ...aBlackLeftArm, ...aBlackRightArm], redR: 3.3, labels: aLabels,
};
const SPEC_B: Spec = {
  xMin: -2.157, xMax: 3.03, yMin: -0.72, yMax: 14.85,
  xMajor: bXMajor, xLabels: bXMajorLabels, xMinor: bXMinor,
  yMajor: bYMajor, yLabels: bYMajorLabels, yMinor: bYMinor,
  yAxisWidth: 66, padRight: 14.5, red: bRed, black: [...bBlackOuter, ...bBlackLeftArm, ...bBlackRightArm], redR: 2.7, labels: bLabels,
};
const SPEC_C: Spec = {
  xMin: -1.461, xMax: 4.456, yMin: -0.296, yMax: 6.364,
  xMajor: cXMajor, xLabels: cXMajorLabels, xMinor: cXMinor,
  yMajor: cYMajor, yLabels: cYMajorLabels, yMinor: cYMinor,
  yAxisWidth: 57, padRight: 3, red: cRed, black: [...cBlackOuter, ...cBlackLeftArm, ...cBlackRightArm], redR: 2.7, labels: cLabels,
};

const titleStyle = (cx: number, top: number): React.CSSProperties => ({
  position: 'absolute', left: cx - 350, top, width: 700, textAlign: 'center',
  fontFamily: FONT, fontSize: 39, lineHeight: 1, whiteSpace: 'nowrap', color: '#000',
});
const letterStyle = (left: number, top: number): React.CSSProperties => ({
  position: 'absolute', left, top, fontFamily: FONT, fontWeight: 'bold', fontSize: 35, lineHeight: 1, color: '#000',
});
const supStyle: React.CSSProperties = { fontSize: '0.62em', position: 'relative', top: '-0.68em' };

export default function App() {
  const refA = useRef<HTMLCanvasElement>(null);
  const refB = useRef<HTMLCanvasElement>(null);
  const refC = useRef<HTMLCanvasElement>(null);

  useEffect(() => {
    const charts: Chart[] = [];
    if (refA.current) charts.push(makeChart(refA.current, SPEC_A));
    if (refB.current) charts.push(makeChart(refB.current, SPEC_B));
    if (refC.current) charts.push(makeChart(refC.current, SPEC_C));
    return () => { charts.forEach((c) => c.destroy()); };
  }, []);

  return (
    <div style={{ position: 'fixed', left: 0, top: 0, width: 1800, height: 779, background: '#fff', overflow: 'hidden' }}>
      <canvas ref={refA} width={601} height={779} style={{ position: 'absolute', left: -1, top: 0, width: 601, height: 779 }} />
      <canvas ref={refB} width={580} height={779} style={{ position: 'absolute', left: 617, top: 0, width: 580, height: 779 }} />
      <canvas ref={refC} width={573} height={779} style={{ position: 'absolute', left: 1227, top: 0, width: 573, height: 779 }} />
      <div style={letterStyle(59, 2)}>A</div>
      <div style={letterStyle(670.5, 2)}>B</div>
      <div style={letterStyle(1271, 3)}>C</div>
      <div style={titleStyle(319, 27)}>
        pSyn<span style={supStyle}>+</span> vs pSyn<span style={supStyle}>-</span>
      </div>
      <div style={titleStyle(930, 22)}>A53T/EKO vs A53T/E2</div>
      <div style={titleStyle(1537, 22)}>A53T/E4 vs A53T/E2</div>
    </div>
  );
}
